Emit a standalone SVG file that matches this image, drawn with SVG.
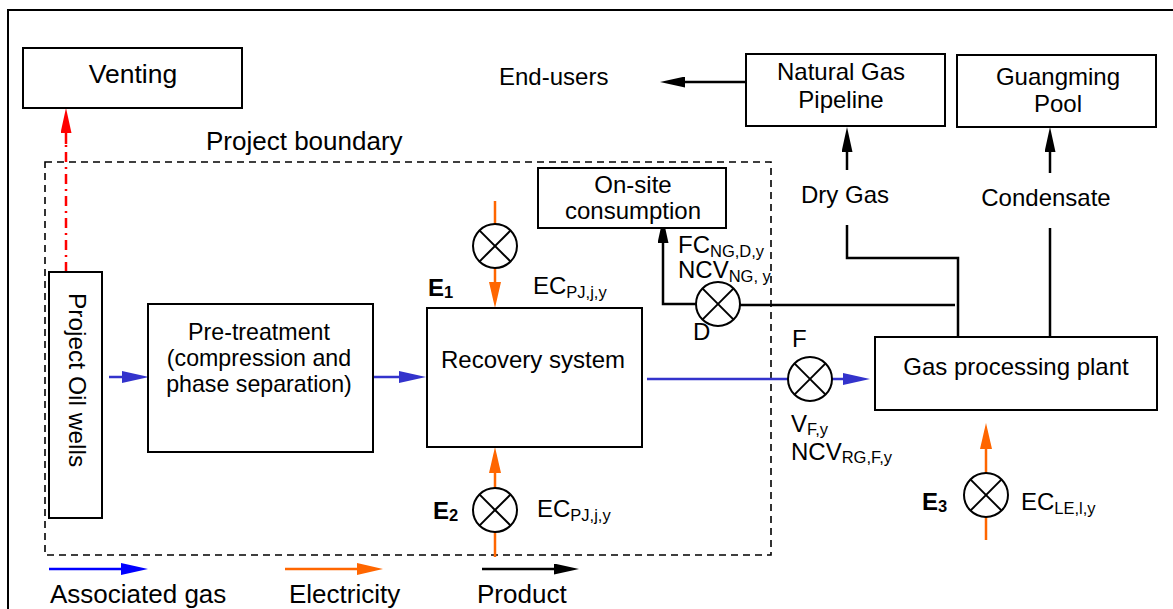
<svg xmlns="http://www.w3.org/2000/svg" width="1173" height="609" viewBox="0 0 1173 609">
<style>
text{font-family:"Liberation Sans",Arial,sans-serif;font-size:24px;fill:#000}
.box{fill:#fff;stroke:#000;stroke-width:2}
.c{text-anchor:middle}
.b{font-weight:bold}
.sub{font-size:16.5px}
.big{font-size:26px}
.pt{font-size:23.2px}
.meter circle{fill:#fff;stroke:#000;stroke-width:2}
.meter line{stroke:#000;stroke-width:2}
.gas{stroke:#3333cc;stroke-width:2.5;fill:none}
.elec{stroke:#ff6600;stroke-width:2.5;fill:none}
.prod{stroke:#000;stroke-width:2.5;fill:none}
</style>
<defs>
<marker id="aBlue" markerUnits="userSpaceOnUse" markerWidth="27" markerHeight="12" viewBox="0 0 27 12" refX="0" refY="6" orient="auto"><path d="M0,0 L27,6 L0,12 z" fill="#3333cc"/></marker>
<marker id="aBlueL" markerUnits="userSpaceOnUse" markerWidth="27" markerHeight="12" viewBox="0 0 27 12" refX="0" refY="6" orient="auto"><path d="M0,0 L27,6 L0,12 z" fill="#0000ff"/></marker>
<marker id="aOr" markerUnits="userSpaceOnUse" markerWidth="26" markerHeight="12" viewBox="0 0 26 12" refX="0" refY="6" orient="auto"><path d="M0,0 L26,6 L0,12 z" fill="#ff6600"/></marker>
<marker id="aBk" markerUnits="userSpaceOnUse" markerWidth="25" markerHeight="11" viewBox="0 0 25 11" refX="0" refY="5.5" orient="auto"><path d="M0,0 L25,5.5 L0,11 z" fill="#000"/></marker>
<marker id="aRed" markerUnits="userSpaceOnUse" markerWidth="25" markerHeight="11" viewBox="0 0 25 11" refX="0" refY="5.5" orient="auto"><path d="M0,0 L25,5.5 L0,11 z" fill="#ff0000"/></marker>
</defs>

<rect width="1173" height="609" fill="#fff"/>
<path d="M8,609 V10 H1173" fill="none" stroke="#000" stroke-width="2"/>

<!-- project boundary -->
<g id="boundary">
<rect x="45" y="162" width="726" height="393" fill="none" stroke="#000" stroke-width="1.6" stroke-dasharray="7 5"/>
<text class="big" x="206" y="150">Project boundary</text>
</g>

<!-- connectors -->
<g id="connectors">
<!-- venting dash-dot -->
<path d="M66,272 V142" stroke="#ff0000" stroke-width="2.5" stroke-dasharray="10 5 2 5" fill="none"/>
<path d="M66,144 V133" stroke="#ff0000" stroke-width="2.5" fill="none" marker-end="url(#aRed)"/>
<!-- gas flows -->
<path class="gas" d="M109,377 H122" marker-end="url(#aBlue)"/>
<path class="gas" d="M373,377 H399" marker-end="url(#aBlue)"/>
<path class="gas" d="M647,379 H788"/>
<path class="gas" d="M832,379 H843" marker-end="url(#aBlue)"/>
<!-- electricity -->
<path class="elec" d="M495,201 V224"/>
<path class="elec" d="M495,268 V282" marker-end="url(#aOr)"/>
<path class="elec" d="M495,557 V532"/>
<path class="elec" d="M495,488 V473" marker-end="url(#aOr)"/>
<path class="elec" d="M986,540 V517"/>
<path class="elec" d="M986,473 V449" marker-end="url(#aOr)"/>
<!-- products -->
<path class="prod" d="M746,82 H685" marker-end="url(#aBk)"/>
<path class="prod" d="M696,304 H663 V243" marker-end="url(#aBk)"/>
<path class="prod" d="M740,305 H955"/>
<path class="prod" d="M958,337 V258 H847 V225"/>
<path class="prod" d="M847,170 V152" marker-end="url(#aBk)"/>
<path class="prod" d="M1050,337 V228"/>
<path class="prod" d="M1050,173 V152" marker-end="url(#aBk)"/>
</g>

<!-- nodes -->
<g id="venting"><rect class="box" x="23" y="48" width="219" height="60"/><text class="c" x="133" y="83" style="font-size:26.5px">Venting</text></g>

<g id="oil-wells"><rect class="box" x="49" y="272" width="53" height="246"/><text class="c" transform="translate(69,380) rotate(90)" x="0" y="0" style="font-size:24.5px">Project Oil wells</text></g>

<g id="pretreatment"><rect class="box" x="148" y="304" width="225" height="148"/>
<text class="c pt" x="259" y="340">Pre-treatment</text>
<text class="c pt" x="259" y="366">(compression and</text>
<text class="c pt" x="259" y="392">phase separation)</text></g>

<g id="recovery"><rect class="box" x="427" y="308" width="215" height="139"/><text class="c" x="533" y="368">Recovery system</text></g>

<g id="onsite"><rect class="box" x="538" y="168" width="188" height="60"/>
<text class="c" x="633" y="193">On-site</text>
<text class="c" x="633" y="219">consumption</text></g>

<g id="gas-plant"><rect class="box" x="875" y="337" width="282" height="73"/><text class="c" x="1016" y="375">Gas processing plant</text></g>

<g id="pipeline"><rect class="box" x="746" y="54" width="199" height="72"/>
<text class="c" x="841" y="80">Natural Gas</text>
<text class="c" x="841" y="108">Pipeline</text></g>

<g id="guangming"><rect class="box" x="957" y="55" width="199" height="72"/>
<text class="c" x="1058" y="85">Guangming</text>
<text class="c" x="1058" y="112">Pool</text></g>

<g id="end-users"><text x="499" y="85">End-users</text></g>
<g id="dry-gas"><text class="c" x="845" y="203">Dry Gas</text></g>
<g id="condensate"><text class="c" x="1046" y="206">Condensate</text></g>

<!-- meters -->
<g id="meter-E1" class="meter"><circle cx="495" cy="246" r="22"/><line x1="479.4" y1="230.4" x2="510.6" y2="261.6"/><line x1="510.6" y1="230.4" x2="479.4" y2="261.6"/>
<text class="b" x="428" y="296">E<tspan class="sub" dy="2">1</tspan></text>
<text x="533" y="294">EC<tspan class="sub" dy="4">PJ,j,y</tspan></text></g>

<g id="meter-E2" class="meter"><circle cx="495" cy="510" r="22"/><line x1="479.4" y1="494.4" x2="510.6" y2="525.6"/><line x1="510.6" y1="494.4" x2="479.4" y2="525.6"/>
<text class="b" x="433" y="519">E<tspan class="sub" dy="2">2</tspan></text>
<text x="537" y="517">EC<tspan class="sub" dy="4">PJ,j,y</tspan></text></g>

<g id="meter-D" class="meter"><circle cx="718" cy="304" r="22"/><line x1="702.4" y1="288.4" x2="733.6" y2="319.6"/><line x1="733.6" y1="288.4" x2="702.4" y2="319.6"/>
<text x="678" y="253">FC<tspan class="sub" dy="4">NG,D,y</tspan></text>
<text x="678" y="278">NCV<tspan class="sub" dy="4">NG, y</tspan></text>
<text x="693" y="340">D</text></g>

<g id="meter-F" class="meter"><circle cx="810" cy="379" r="22"/><line x1="794.4" y1="363.4" x2="825.6" y2="394.6"/><line x1="825.6" y1="363.4" x2="794.4" y2="394.6"/>
<text x="792" y="347">F</text>
<text x="791" y="432">V<tspan class="sub" dy="3">F,y</tspan></text>
<text x="791" y="460">NCV<tspan class="sub" dy="3">RG,F,y</tspan></text></g>

<g id="meter-E3" class="meter"><circle cx="986" cy="495" r="22"/><line x1="970.4" y1="479.4" x2="1001.6" y2="510.6"/><line x1="1001.6" y1="479.4" x2="970.4" y2="510.6"/>
<text class="b" x="922" y="510">E<tspan class="sub" dy="2">3</tspan></text>
<text x="1021" y="510">EC<tspan class="sub" dy="4">LE,l,y</tspan></text></g>

<!-- legend -->
<g id="legend">
<path d="M49,569 H121" stroke="#0000ff" stroke-width="2.5" marker-end="url(#aBlueL)"/>
<text class="big" x="50" y="603">Associated gas</text>
<path d="M285,569 H357" stroke="#ff6600" stroke-width="2.5" marker-end="url(#aOr)"/>
<text class="big" x="289" y="603">Electricity</text>
<path d="M482,569 H554" stroke="#000" stroke-width="2.5" marker-end="url(#aBk)"/>
<text class="big" x="477" y="603">Product</text>
</g>
</svg>
